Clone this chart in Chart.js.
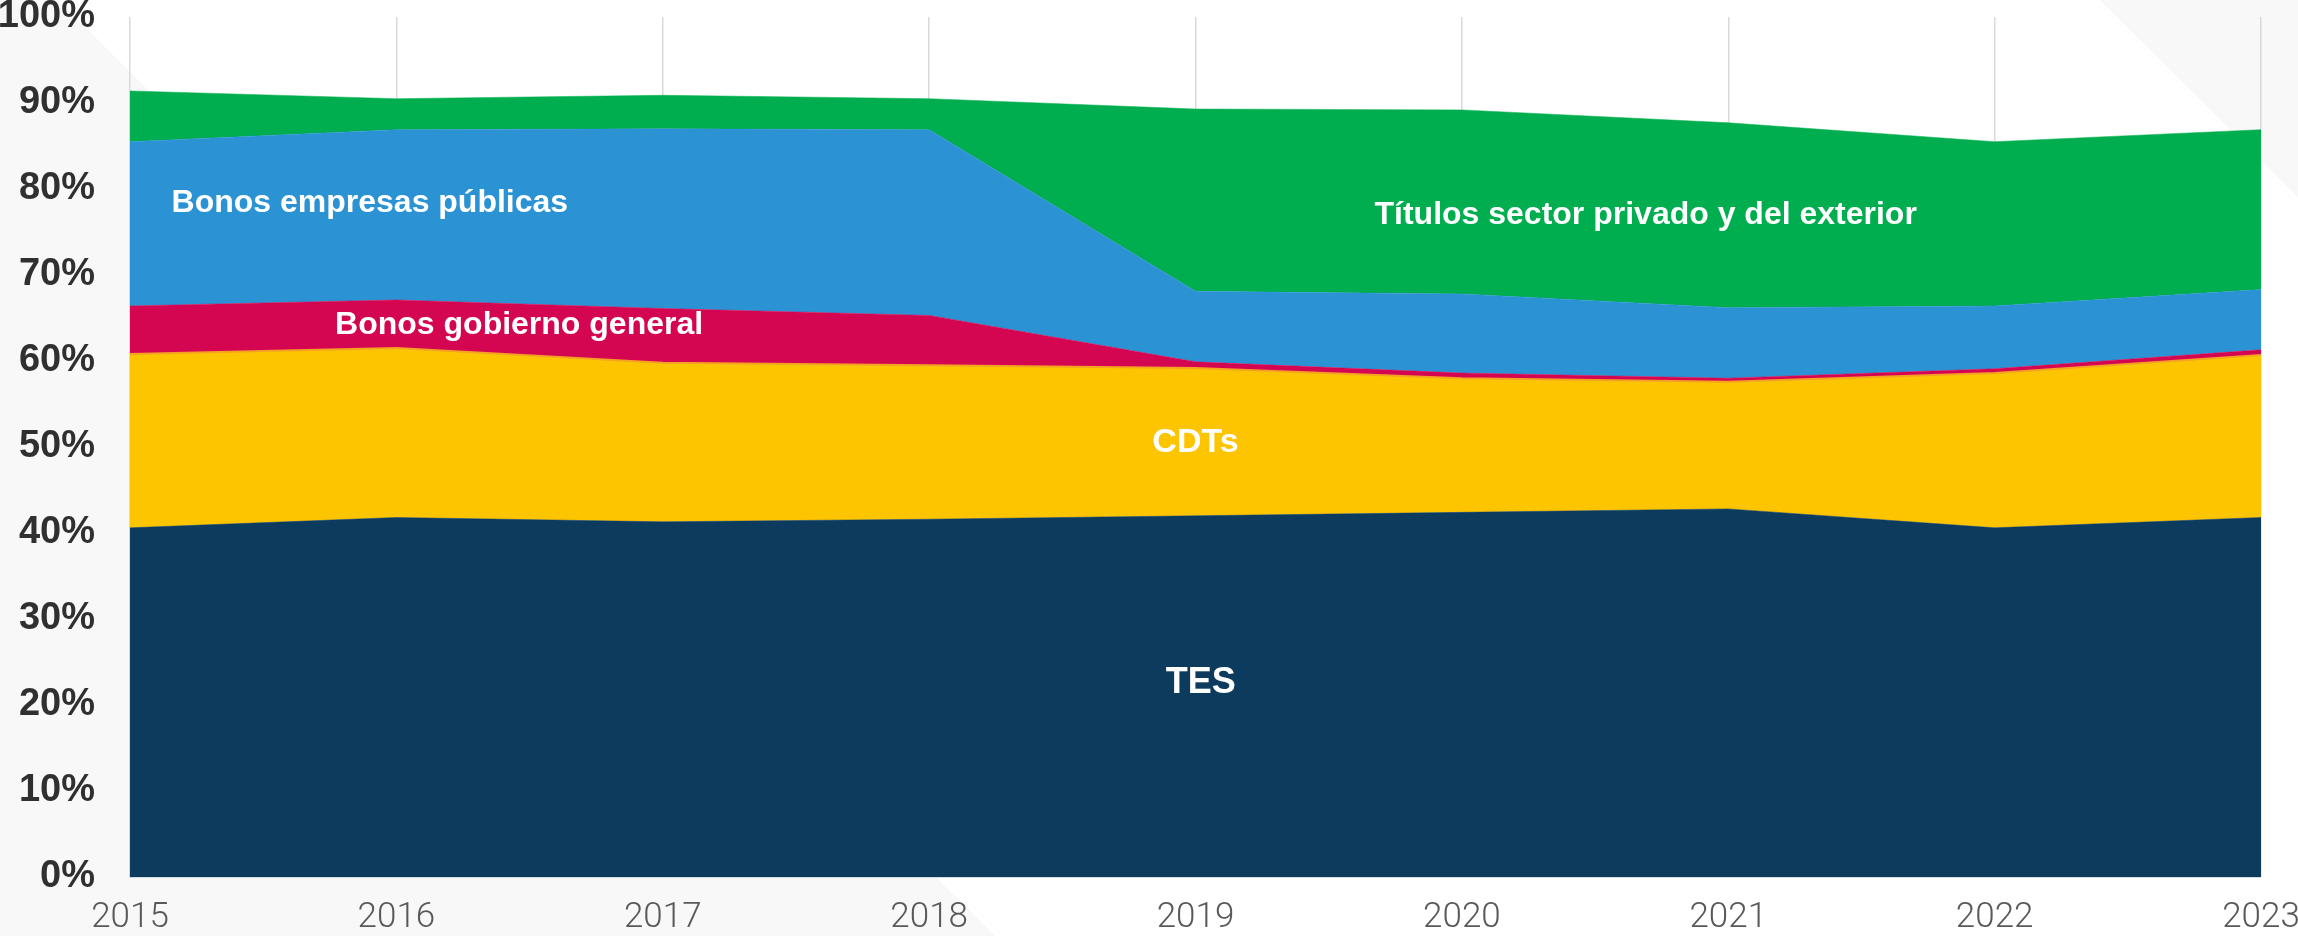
<!DOCTYPE html>
<html lang="es">
<head>
<meta charset="utf-8">
<title>Composición del portafolio</title>
<script src="https://cdn.jsdelivr.net/npm/chart.js@4.4.1/dist/chart.umd.min.js"></script>
<style>
  html, body { margin: 0; padding: 0; background: #ffffff; }
  #wrap { width: 2298px; height: 936px; position: relative; }
</style>
</head>
<body>
<div id="wrap"><canvas id="chart"></canvas></div>
<script>
// years on the x axis
const years = ['2015', '2016', '2017', '2018', '2019', '2020', '2021', '2022', '2023'];

// share of each instrument, %
const tes       = [40.6, 41.8, 41.3, 41.6, 42.0, 42.4, 42.8, 40.6, 41.8];
const cdts      = [20.2, 19.7, 18.5, 17.9, 17.2, 15.6, 14.8, 18.0, 18.9];
const bonosGob  = [5.6, 5.6, 6.3, 5.8, 0.7, 0.6, 0.4, 0.5, 0.6];
const bonosEmp  = [19.1, 19.8, 20.9, 21.6, 8.2, 9.2, 8.2, 7.3, 7.0];
const titulos   = [5.9, 3.6, 3.9, 3.6, 21.2, 21.4, 21.5, 19.1, 18.6];

const seriesNames = ['TES', 'CDTs', 'Bonos gobierno general', 'Bonos empresas públicas', 'Títulos sector privado y del exterior'];
const seriesColors = ['#0d3b5e', '#fdc500', '#d50651', '#2b93d3', '#00ae4f'];

// y ticks 0..100 by 10
const yTickStep = 10;

// in-area labels, placed in data units (x = year index, y = %)
const areaLabels = [
  { text: 'Bonos empresas públicas', x: 0.156, y: 78.4, align: 'left', size: 32 },
  { text: 'Bonos gobierno general', x: 0.77, y: 64.2, align: 'left', size: 32 },
  { text: 'Títulos sector privado y del exterior', x: 5.69, y: 77.0, align: 'center', size: 32 },
  { text: 'CDTs', x: 4.0, y: 50.5, align: 'center', size: 34 },
  { text: 'TES', x: 4.02, y: 22.6, align: 'center', size: 36 }
];

// faint decorative background shapes
const backdrop = {
  id: 'backdrop',
  beforeDraw(chart) {
    const c = chart.ctx;
    c.save();
    c.fillStyle = '#ffffff';
    c.fillRect(0, 0, chart.width, chart.height);
    c.fillStyle = '#f8f8f8';
    c.beginPath();
    c.moveTo(0, 0);
    c.lineTo(58, 0);
    c.lineTo(995, 936);
    c.lineTo(0, 936);
    c.closePath();
    c.fill();
    c.beginPath();
    c.moveTo(2100, 0);
    c.lineTo(2298, 0);
    c.lineTo(2298, 197);
    c.closePath();
    c.fill();
    c.restore();
  }
};

const labelsPlugin = {
  id: 'areaLabels',
  afterDatasetsDraw(chart) {
    const c = chart.ctx;
    const xs = chart.scales.x, ys = chart.scales.y;
    c.save();
    c.fillStyle = '#ffffff';
    c.textBaseline = 'middle';
    areaLabels.forEach(l => {
      c.font = 'bold ' + l.size + 'px "Liberation Sans", Arial, sans-serif';
      c.textAlign = l.align;
      c.fillText(l.text, xs.getPixelForValue(l.x), ys.getPixelForValue(l.y));
    });
    c.restore();
  }
};

const stacks = [tes, cdts, bonosGob, bonosEmp, titulos];
const datasets = stacks.map((vals, i) => ({
  label: seriesNames[i],
  data: vals,
  backgroundColor: seriesColors[i],
  borderColor: i === 1 ? '#f4a224' : seriesColors[i],
  borderWidth: i === 1 ? 2 : 0.5,
  fill: i === 0 ? 'origin' : '-1',
  pointRadius: 0,
  tension: 0
}));

new Chart(document.getElementById('chart').getContext('2d'), {
  type: 'line',
  data: { labels: years, datasets },
  plugins: [backdrop, labelsPlugin],
  options: {
    responsive: true,
    maintainAspectRatio: false,
    animation: false,
    layout: { padding: 0 },
    plugins: { legend: { display: false }, tooltip: { enabled: false } },
    scales: {
      x: {
        offset: false,
        grid: { color: '#d9d9d9', lineWidth: 1.5, drawTicks: false },
        border: { color: '#d5dae1', width: 2 },
        ticks: {
          padding: 24,
          color: '#595959',
          maxRotation: 0,
          autoSkip: false,
          font: { family: 'Roboto, "Liberation Sans", sans-serif', size: 35, weight: 300, lineHeight: 1.0 }
        },
        afterFit(scale) {
          scale.height = 59;
          scale.paddingLeft = 0;
          scale.paddingRight = 37;
        }
      },
      y: {
        stacked: true,
        min: 0,
        max: 100,
        grid: { display: false, drawTicks: false },
        border: { display: false },
        ticks: {
          stepSize: yTickStep,
          padding: 35,
          color: '#303030',
          callback: v => v + '%',
          font: { family: '"Liberation Sans", Arial, sans-serif', size: 38, weight: 'bold', lineHeight: 0.9 }
        },
        afterFit(scale) {
          scale.width = 130;
          scale.paddingTop = 17;
          scale.paddingBottom = 0;
        }
      }
    }
  }
});
</script>
</body>
</html>
